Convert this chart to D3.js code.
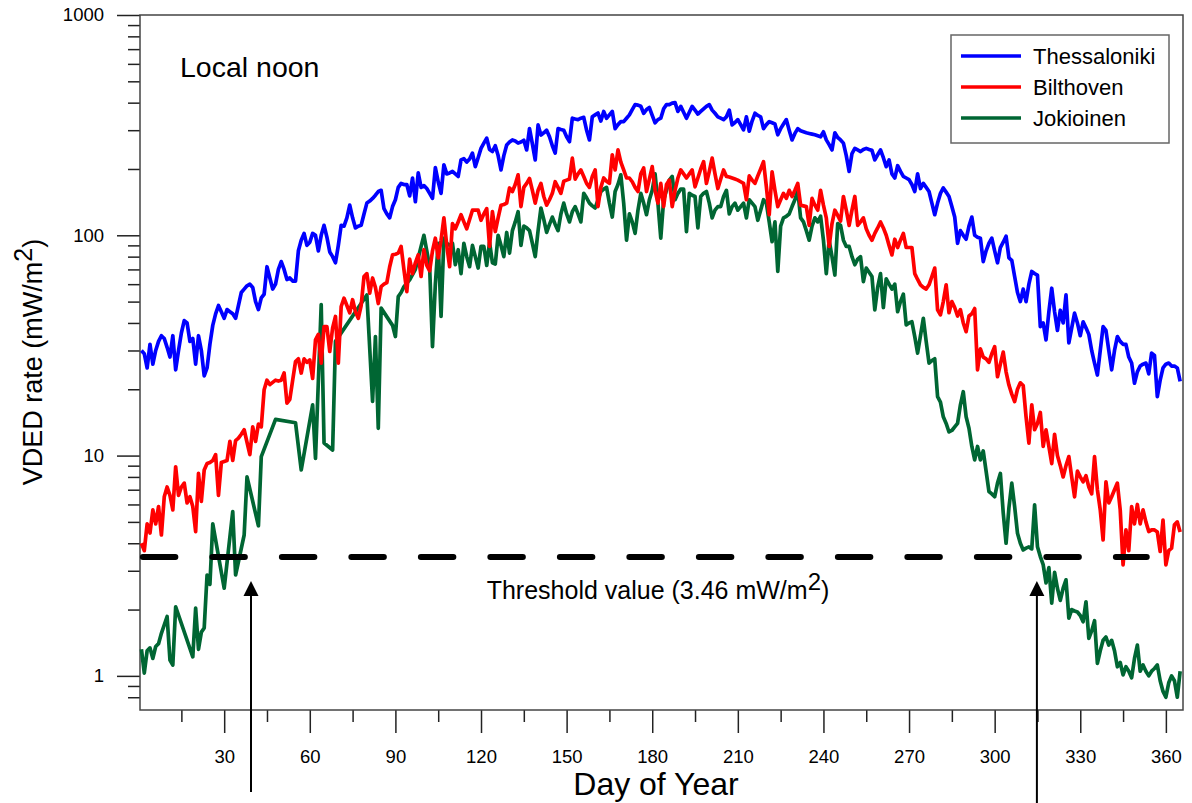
<!DOCTYPE html>
<html>
<head>
<meta charset="utf-8">
<script src="https://cdn.jsdelivr.net/npm/d3@7"></script>
<style>
  body { margin: 0; background: #fff; }
  text { font-family: "Liberation Sans", Arial, sans-serif; fill: #000; }
</style>
</head>
<body>
<script>
width = 1192
height = 803

// daily values, day 1..365 (index 0 = day 1)
const thessaloniki = [
  30, 29, 25, 32, 26, 30, 33, 35, 34, 31,
  28, 35, 24.5, 30, 36, 41, 40, 33, 34, 26,
  35, 30, 23, 25, 32, 39, 44, 48, 45, 42,
  46, 45, 44, 42, 48, 55, 57, 59, 60, 58,
  50, 46, 52, 54, 72, 64, 57, 60, 70, 76,
  70, 63, 64, 62, 62, 85, 95, 102, 90, 93,
  102, 100, 85, 100, 111, 98, 84, 80, 75, 90,
  111, 110, 120, 137, 120, 108, 110, 111, 125, 140,
  143, 147, 152, 158, 160, 132, 125, 120, 135, 145,
  165, 172, 170, 170, 151, 182, 142, 192, 165, 168,
  163, 155, 147, 203, 175, 155, 209, 190, 192, 195,
  190, 185, 220, 223, 215, 222, 236, 205, 225, 248,
  262, 276, 245, 240, 255, 230, 198, 230, 257, 265,
  271, 268, 262, 265, 270, 244, 305, 260, 220, 317,
  285, 292, 300, 280, 255, 236, 305, 302, 300, 280,
  266, 340, 337, 335, 340, 343, 300, 271, 345, 352,
  359, 330, 365, 340, 352, 365, 305, 318, 328, 328,
  340, 352, 372, 392, 390, 385, 358, 372, 380, 350,
  324, 335, 340, 375, 392, 392, 398, 400, 365, 385,
  362, 340, 362, 385, 370, 355, 365, 375, 385, 392,
  370, 358, 345, 340, 335, 345, 370, 317, 325, 335,
  318, 301, 345, 297, 330, 358, 350, 345, 305, 318,
  328, 324, 320, 286, 305, 320, 335, 300, 271, 290,
  305, 298, 295, 292, 290, 288, 286, 283, 280, 295,
  271, 258, 244, 292, 278, 271, 262, 230, 195, 235,
  248, 244, 240, 245, 248, 245, 243, 220, 232, 244,
  225, 205, 220, 190, 182, 207, 195, 185, 182, 179,
  170, 158, 190, 163, 172, 165, 158, 140, 124, 140,
  155, 164, 157, 150, 135, 121, 92, 105, 100, 96,
  110, 121, 100, 98, 97, 76, 85, 92, 97, 85,
  75, 88, 93, 99, 79, 77, 65, 55, 50, 57,
  50, 60, 68.5, 67, 66, 38.5, 40, 33.5, 45, 57.5,
  45, 37, 45.7, 40, 53.6, 32.5, 38, 44.3, 40, 35,
  40.5, 38, 35.5, 30, 26.3, 23.2, 30, 38.5, 37, 30,
  24.5, 30, 34.7, 33, 32, 32, 28, 26.3, 21.3, 24,
  25.5, 26, 26.3, 23.5, 29.2, 28.5, 18.5, 22, 25, 26,
  26.3, 25.5, 25.5, 25, 21.7
]

const bilthoven = [
  4.0, 3.7, 4.9, 4.45, 5.67, 4.9, 5.87, 4.36, 6.5, 7.2,
  6.6, 5.67, 8.9, 6.6, 7.2, 7.5, 6.1, 6.5, 5.87, 4.52,
  8.3, 6.2, 8.6, 9.2, 9.3, 9.5, 10.1, 6.6, 9.3, 9.4,
  9.5, 11.6, 9.5, 11.7, 12, 12.5, 13.1, 11.5, 10.1, 13.5,
  11.6, 13.9, 13.5, 19.9, 22, 21, 21.5, 22, 21.8, 22,
  23.7, 17.3, 18, 22, 26.7, 27.5, 23.7, 27.5, 26.5, 27.2,
  22.4, 33.5, 35.5, 26.3, 38.5, 38.5, 29.7, 38, 42.8, 26.3,
  47.5, 51.8, 48, 44.5, 51, 45, 42, 48, 65, 67,
  54.6, 64, 58, 49, 58.5, 60, 61, 72, 81.5, 82,
  83, 89, 69.7, 55.5, 78, 67, 75, 81.5, 65, 86,
  73, 69, 85, 97, 79, 95, 120, 90, 72, 113,
  107, 115, 124, 115, 107, 118, 130, 130, 130, 117,
  125, 132, 89, 128, 104, 120, 137, 138, 140, 164,
  158, 170, 188, 135, 165, 172, 181, 160, 140, 160,
  172, 150, 137, 145, 155, 175, 165, 155, 176, 178,
  180, 224, 180, 190, 198, 185, 172, 165, 185, 198,
  135, 165, 182, 176, 172, 232, 198, 244, 215, 198,
  182, 182, 175, 165, 158, 190, 202, 158, 180, 205,
  160, 140, 172, 135, 170, 178, 135, 160, 182, 198,
  190, 182, 190, 198, 166, 182, 200, 216, 172, 195,
  224, 190, 163, 180, 198, 185, 184, 182, 180, 178,
  175, 172, 145, 186, 178, 172, 186, 200, 216, 166,
  124, 194, 160, 135, 145, 155, 147, 160, 150, 160,
  172, 137, 136, 135, 111, 147, 137, 130, 160, 137,
  120, 89, 113, 130, 123, 116, 150, 130, 111, 130,
  150, 111, 115, 120, 107, 100, 95, 102, 108, 115,
  108, 100, 90, 81.5, 96, 88, 95, 102, 88, 88,
  88, 67, 63, 59.6, 58, 57, 59.6, 65, 71, 45.9,
  43.5, 50, 59.6, 44.5, 50, 47, 43, 46, 40, 36.5,
  43, 44, 46.5, 24.5, 30.5, 28, 27.5, 26.5, 29, 31.2,
  22.8, 26, 29.5, 24, 20.9, 19, 17.6, 20, 21.4, 20.8,
  15, 11.4, 17, 13.1, 14, 15.7, 11, 13.1, 11, 9.2,
  12.5, 10, 9, 8.0, 9, 9.9, 8, 6.5, 8.5, 8,
  7.6, 8.1, 7.2, 6.7, 9.9, 7, 5.67, 4.14, 7.6, 6.1,
  6.5, 7, 7.5, 5.67, 3.19, 4.6, 3.7, 5.87, 4.9, 6,
  4.9, 5.67, 5, 4.52, 4.6, 4.6, 4.5, 3.67, 5.1, 3.19,
  3.7, 3.8, 4.85, 5, 4.5
]

// null = no measurement that day (line is drawn straight across)
const jokioinen = [
  1.32, 1.03, 1.3, 1.34, 1.2, 1.36, 1.4, 1.56, null, 1.86,
  1.18, 1.12, 2.06, null, null, null, null, null, 1.22, 2.03,
  1.32, 1.58, 1.65, 2.87, 2.6, 4.9, null, null, null, 2.5,
  null, null, 5.57, 2.87, null, null, 4.36, 8.0, null, null,
  null, 4.8, 9.9, null, null, null, null, 14.6, null, null,
  null, null, null, null, 14.1, null, 8.6, null, null, null,
  17, 9.7, null, 48.5, 11.4, null, null, 10.6, 33, null,
  null, null, null, null, null, null, null, null, null, 53.6,
  null, 17.6, 34.7, 13.3, 46.7, null, null, null, 39, 34.7,
  52.7, 55, 58.5, null, 62.8, null, 70, null, 89, 100,
  85, 72, 31.2, 60, 92, 42.8, 97, 92, 90, 92,
  73.5, 86, 67, 92, 80, 72, 90, 80, 71, 89,
  89, 73, 93, 75, 74, 100, 90, 80, 103, 83,
  105, 115, 128, 90, 110, 108, 105, 92, 80, 105,
  133, 118, 103, 112, 121, 112, 105, 125, 140, 125,
  115, 128, 135, 125, 115, 155, 148, 140, 136, 133,
  145, 158, 162, 165, 140, 121, 158, 170, 188, 140,
  95, 125, 115, 102, 130, 155, 140, 124, 145, 160,
  190, 140, 97, 145, 160, 178, 185, 145, 155, 162,
  162, 104, 155, 152, 150, 108, 150, 155, 158, 140,
  120, 130, 135, 135, 150, 160, 125, 135, 140, 130,
  135, 140, 120, 145, 140, 135, 117, 130, 145, 140,
  115, 93.6, 115, 68.5, 110, 120, 122, 125, 135, 145,
  160, 120, 115, 105, 95, 110, 120, 115, 122, 95,
  67, 95, 80, 66, 113, 111, 95, 89, 89, 80,
  73.5, 78, 80, 61.6, 71, 68, 65, 45.9, 58, 67,
  47, 63.5, 60, 57, 60, 45, 50, 54, 39.2, 40,
  40.5, 34.7, 29.2, 35, 42, 33, 26.3, 27, 27.5, 18.5,
  17.5, 15, 14, 12.8, 13, 13.5, 14, 17, 19.5, 15,
  13.3, 11, 9.55, 11, 9.55, 10.5, 8.5, 6.87, 6.7, 6.5,
  7.5, 8.3, 5.5, 4.0, 5.8, 7.5, 5.87, 4.44, 4.0, 3.73,
  3.8, 3.85, 3.77, 5.97, 3.86, 3.48, 3.2, 2.64, 3.1, 2.14,
  2.95, 2.5, 2.2, 2.5, 2.73, 1.83, 2.0, 1.97, 1.95, 1.88,
  1.76, 2.17, 1.48, 1.6, 1.78, 1.14, 1.3, 1.45, 1.5, 1.38,
  1.45, 1.3, 1.1, 1.15, 1.01, 1.1, 1.05, 0.98, 1.2, 1.38,
  1.05, 1.12, 1.05, 1.0, 1.05, 1.08, 1.12, 0.95, 0.85, 0.8,
  0.93, 1.0, 0.95, 0.8, 1.05
]

const seriesNames = ["Thessaloniki", "Bilthoven", "Jokioinen"]
const seriesColors = ["#0000ff", "#ff0000", "#006633"]
const xTicksMajor = [30, 60, 90, 120, 150, 180, 210, 240, 270, 300, 330, 360]
const xTicksMinor = [15, 45, 75, 105, 135, 165, 195, 225, 255, 285, 315, 345]
const yTicksMajor = [1, 10, 100, 1000]
const yTicksMinor = [0.8, 0.9, 2, 3, 4, 5, 6, 7, 8, 9, 20, 30, 40, 50, 60, 70, 80, 90,
                     200, 300, 400, 500, 600, 700, 800, 900]
const threshold = 3.46
const thresholdSpan = [1.5, 353.3]   // days covered by the dashed line
const arrowDays = [39.4, 314.8]      // days where the threshold is crossed

const svg = d3.select("body")
  .append("svg")
    .attr("width", width)
    .attr("height", height);

const x = d3.scaleLinear().domain([0.5, 366]).range([140, 1183]);
const y = d3.scaleLog().domain([0.7, 1000]).range([710, 15]);

// axes
const axisColor = "#222";

const xMajor = svg.append("g")
  .attr("transform", "translate(0,710)")
  .call(d3.axisBottom(x).tickValues(xTicksMajor).tickSize(23).tickPadding(17));
const xMinor = svg.append("g")
  .attr("transform", "translate(0,710)")
  .call(d3.axisBottom(x).tickValues(xTicksMinor).tickSize(12).tickFormat(""));
const yMajor = svg.append("g")
  .attr("transform", "translate(140,0)")
  .call(d3.axisLeft(y).tickValues(yTicksMajor).tickSize(23).tickPadding(13)
        .tickFormat(d3.format("d")));
const yMinor = svg.append("g")
  .attr("transform", "translate(140,0)")
  .call(d3.axisLeft(y).tickValues(yTicksMinor).tickSize(12).tickFormat(""));

[xMajor, xMinor, yMajor, yMinor].forEach(g => {
  g.select(".domain").remove();
  g.selectAll("line").attr("stroke", axisColor).attr("stroke-width", 1.5);
  g.selectAll("text")
    .attr("font-size", 18.5)
    .attr("font-family", "Liberation Sans, Arial, sans-serif")
    .attr("fill", "#000");
});

// frame
svg.append("rect")
  .attr("x", 140).attr("y", 15)
  .attr("width", 1183 - 140).attr("height", 710 - 15)
  .attr("fill", "none")
  .attr("stroke", "#444")
  .attr("stroke-width", 1.5);

// data lines
const line = d3.line()
  .x(d => x(d.day))
  .y(d => y(d.value));

const allSeries = [thessaloniki, bilthoven, jokioinen].map((vals, i) => ({
  name: seriesNames[i],
  color: seriesColors[i],
  points: vals.map((v, j) => ({ day: j + 1, value: v })).filter(d => d.value != null)
}));

svg.append("g")
  .selectAll("path")
  .data(allSeries.slice().reverse())
  .join("path")
    .attr("d", d => line(d.points))
    .attr("fill", "none")
    .attr("stroke", d => d.color)
    .attr("stroke-width", 3.7)
    .attr("stroke-linejoin", "round");

// threshold
svg.append("line")
  .attr("x1", x(thresholdSpan[0]))
  .attr("x2", x(thresholdSpan[1]))
  .attr("y1", y(threshold))
  .attr("y2", y(threshold))
  .attr("stroke", "#000")
  .attr("stroke-width", 6)
  .attr("stroke-linecap", "round")
  .attr("stroke-dasharray", "32.5,37");

const thr = svg.append("text")
  .attr("x", 658)
  .attr("y", 599)
  .attr("text-anchor", "middle")
  .attr("font-size", 25);
thr.append("tspan").text("Threshold value (3.46 mW/m");
thr.append("tspan").attr("dy", -9).attr("font-size", 24).text("2");
thr.append("tspan").attr("dy", 9).text(")");

// arrows
const arrows = svg.append("g");
arrowDays.forEach((d, i) => {
  const ax = x(d);
  const tip = y(threshold) + 24;
  arrows.append("line")
    .attr("x1", ax).attr("x2", ax)
    .attr("y1", tip + 12).attr("y2", i === 0 ? 792 : 803)
    .attr("stroke", "#000")
    .attr("stroke-width", 2);
  arrows.append("path")
    .attr("d", `M${ax},${tip} L${ax - 7.5},${tip + 15} L${ax + 7.5},${tip + 15} Z`)
    .attr("fill", "#000");
});

// labels
svg.append("text")
  .attr("x", 180).attr("y", 77)
  .attr("font-size", 28.5)
  .text("Local noon");

svg.append("text")
  .attr("x", 656).attr("y", 795)
  .attr("text-anchor", "middle")
  .attr("font-size", 32)
  .text("Day of Year");

const yl = svg.append("text")
  .attr("transform", "translate(42,362) rotate(-90)")
  .attr("text-anchor", "middle")
  .attr("font-size", 27);
yl.append("tspan").text("VDED rate (mW/m");
yl.append("tspan").attr("dy", -10).attr("font-size", 25).text("2");
yl.append("tspan").attr("dy", 10).text(")");

// legend
const legend = svg.append("g");
legend.append("rect")
  .attr("x", 951).attr("y", 35)
  .attr("width", 218).attr("height", 108)
  .attr("fill", "#fff")
  .attr("stroke", "#666")
  .attr("stroke-width", 1.5);

const items = legend.selectAll("g.item")
  .data(allSeries)
  .join("g")
    .attr("class", "item")
    .attr("transform", (d, i) => `translate(0,${56 + i * 31})`);
items.append("line")
  .attr("x1", 961).attr("x2", 1021)
  .attr("stroke", d => d.color)
  .attr("stroke-width", 3.5);
items.append("text")
  .attr("x", 1033).attr("y", 8)
  .attr("font-size", 22)
  .text(d => d.name);
</script>
</body>
</html>
